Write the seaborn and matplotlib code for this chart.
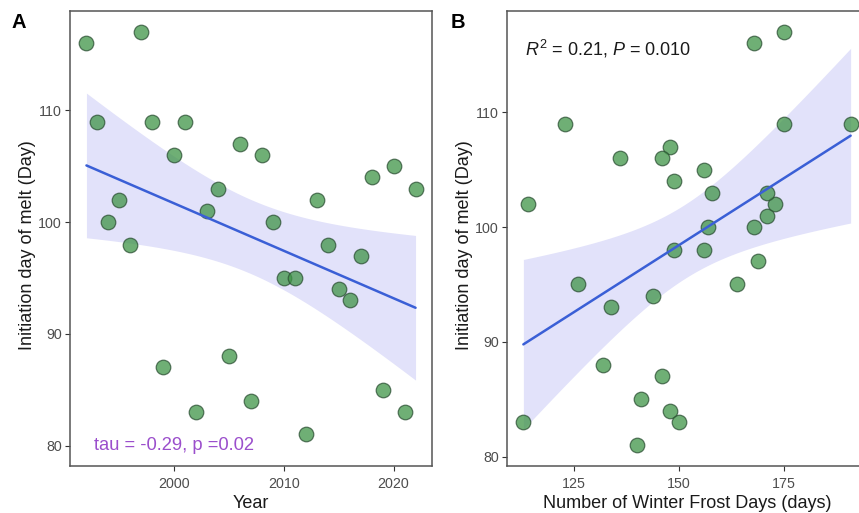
import numpy as np
import pandas as pd
import matplotlib
matplotlib.use("Agg")
import matplotlib.pyplot as plt
import seaborn as sns

# ---- data -------------------------------------------------------------
years = list(range(1992, 2023))
melt_day = [116, 109, 100, 102, 98, 117, 109, 87, 106, 109, 83, 101, 103, 88,
            107, 84, 106, 100, 95, 95, 81, 102, 98, 94, 93, 97, 104, 85, 105,
            83, 103]
frost_days = [168, 123, 157, 114, 149, 175, 175, 146, 136, 191, 113, 171, 158,
              132, 148, 148, 146, 168, 126, 164, 140, 173, 156, 144, 134, 169,
              149, 141, 156, 150, 171]

x_ticks_a = [2000, 2010, 2020]
x_ticks_b = [125, 150, 175]
y_ticks = [80, 90, 100, 110]

label_a = "tau = -0.29, p =0.02"
label_b = r"$\mathit{R}^{2}$ = 0.21, $\mathit{P}$ = 0.010"

df = pd.DataFrame({"year": years, "melt": melt_day, "frost": frost_days})

# ---- style ------------------------------------------------------------
sns.set_theme(style="white")
plt.rcParams["font.family"] = ["Liberation Sans", "DejaVu Sans"]
plt.rcParams["mathtext.fontset"] = "custom"
plt.rcParams["mathtext.rm"] = "Liberation Sans"
plt.rcParams["mathtext.it"] = "Liberation Sans:italic"

POINT_FILL = "#3f9447"
POINT_EDGE = "#2b4f33"
LINE_COLOR = "#3a5fd6"
BAND_COLOR = "#e2e2fa"


def lm_band(x, y, grid, level_t=2.045):
    """OLS fit with a pointwise 95% confidence band for the mean."""
    x = np.asarray(x, float)
    y = np.asarray(y, float)
    n = len(x)
    b1, b0 = np.polyfit(x, y, 1)
    resid = y - (b0 + b1 * x)
    s = np.sqrt(np.sum(resid ** 2) / (n - 2))
    sxx = np.sum((x - x.mean()) ** 2)
    fit = b0 + b1 * grid
    se = s * np.sqrt(1.0 / n + (grid - x.mean()) ** 2 / sxx)
    return fit - level_t * se, fit + level_t * se


def panel(ax, xcol, xlabel, xticks, xlim, ylim):
    x = df[xcol].values
    grid = np.linspace(x.min(), x.max(), 200)
    lo, hi = lm_band(x, df["melt"].values, grid)
    ax.fill_between(grid, lo, hi, color=BAND_COLOR, lw=0, zorder=1)
    sns.scatterplot(data=df, x=xcol, y="melt", ax=ax, s=110,
                    color=POINT_FILL, edgecolor=POINT_EDGE, linewidth=0.9,
                    alpha=0.75, zorder=2, legend=False)
    sns.regplot(data=df, x=xcol, y="melt", ax=ax, scatter=False, ci=None,
                color=LINE_COLOR, line_kws={"lw": 1.8, "zorder": 3})
    ax.set_xlim(*xlim)
    ax.set_ylim(*ylim)
    ax.set_xticks(xticks)
    ax.set_yticks(y_ticks)
    ax.set_xlabel(xlabel, fontsize=13, color="#1a1a1a", labelpad=3)
    ax.set_ylabel("Initiation day of melt (Day)", fontsize=13,
                  color="#1a1a1a")
    ax.yaxis.set_label_coords(-34 / 362, 0.485)
    ax.tick_params(axis="both", which="major", labelsize=10.3,
                   labelcolor="#4d4d4d", color="#333333", length=3.5,
                   width=0.8, direction="out", bottom=True, left=True)
    ax.tick_params(axis="x", pad=4.5)
    ax.tick_params(axis="y", pad=2.5)
    for side in ["left", "bottom", "top", "right"]:
        ax.spines[side].set_visible(True)
        ax.spines[side].set_color("#555555")
        ax.spines[side].set_linewidth(1.1)
    ax.grid(False)


fig = plt.figure(figsize=(8.59, 5.13), dpi=100)
ax_a = fig.add_axes([70 / 859, 47 / 513, 362 / 859, 455 / 513])
ax_b = fig.add_axes([507 / 859, 47 / 513, 360 / 859, 455 / 513])

panel(ax_a, "year", "Year", x_ticks_a, (1990.5, 2023.5), (78.18, 118.9))
panel(ax_b, "frost", "Number of Winter Frost Days (days)", x_ticks_b,
      (109.1, 194.9), (79.2, 118.8))

ax_a.text(2000, 80.0, label_a, color="#9b4fcc", fontsize=13.2,
          ha="center", va="center", zorder=5)
ax_b.text(113.3, 115.5, label_b, color="#1a1a1a", fontsize=13,
          ha="left", va="center", zorder=5)

fig.text(19 / 859, 1 - 22.5 / 513, "A", fontsize=14.5, fontweight="bold",
         ha="center", va="center", color="black")
fig.text(458 / 859, 1 - 22.5 / 513, "B", fontsize=14.5, fontweight="bold",
         ha="center", va="center", color="black")

fig.savefig("out.png", dpi=100, facecolor="white")
